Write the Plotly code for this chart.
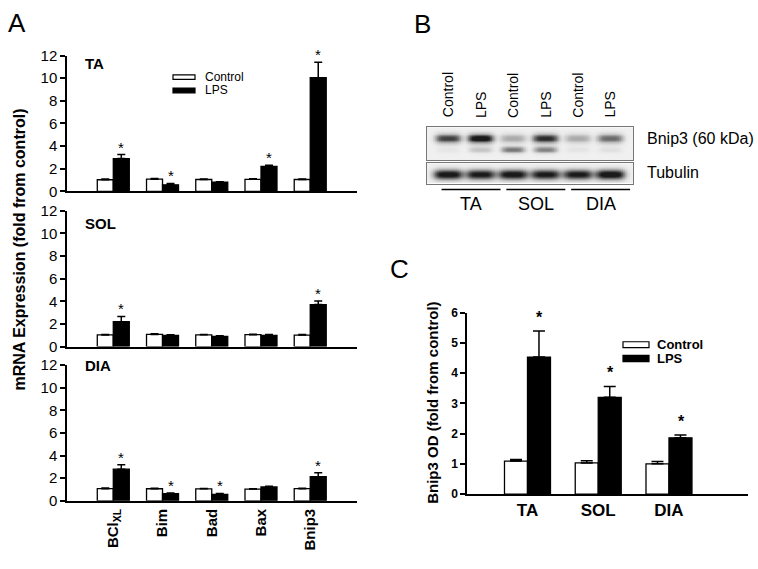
import numpy as np
import plotly.graph_objects as go

W, H = 758, 569
FONT = "Liberation Sans, Arial, sans-serif"

# ---- panel A data (mRNA, fold from control) ----
genes = ["BCl<sub>XL</sub>", "Bim", "Bad", "Bax", "Bnip3"]
ta_ctrl = [1.03, 1.08, 1.05, 1.07, 1.05]
ta_ctrl_err = [0.06, 0.05, 0.04, 0.05, 0.05]
ta_lps = [2.9, 0.58, 0.82, 2.2, 10.05]
ta_lps_err = [0.35, 0.12, 0.04, 0.1, 1.35]
ta_sig = [1, 1, 0, 1, 1]

sol_ctrl = [1.03, 1.08, 1.04, 1.05, 1.02]
sol_ctrl_err = [0.05, 0.05, 0.04, 0.04, 0.04]
sol_lps = [2.2, 0.98, 0.9, 1.0, 3.71]
sol_lps_err = [0.46, 0.06, 0.06, 0.06, 0.32]
sol_sig = [1, 0, 0, 0, 1]

dia_ctrl = [1.08, 1.07, 1.06, 1.04, 1.08]
dia_ctrl_err = [0.05, 0.05, 0.04, 0.04, 0.04]
dia_lps = [2.8, 0.64, 0.57, 1.23, 2.14]
dia_lps_err = [0.4, 0.06, 0.08, 0.05, 0.35]
dia_sig = [1, 1, 1, 0, 1]

# ---- panel C data (Bnip3 OD) ----
muscles = ["TA", "SOL", "DIA"]
od_ctrl = [1.09, 1.03, 1.0]
od_ctrl_err = [0.05, 0.07, 0.08]
od_lps = [4.53, 3.2, 1.86]
od_lps_err = [0.86, 0.36, 0.09]
od_sig = [1, 1, 1]

# ---- panel B blot (relative band darkness per lane) ----
lanes = ["Control", "LPS", "Control", "LPS", "Control", "LPS"]
bnip3_band = [0.85, 1.15, 0.35, 0.95, 0.35, 0.65]
lower_band = [0.05, 0.22, 0.6, 0.55, 0.06, 0.08]
tubulin_band = [1.1, 1.05, 1.1, 1.05, 1.05, 1.15]


def px_x(p):
    return p / W


def px_y(p):
    return 1 - p / H


fig = go.Figure()

A_GAP = 0.35
C_GAP = 0.30
panels = [("", "", ta_ctrl, ta_ctrl_err, ta_lps, ta_lps_err, ta_sig),
          ("2", "2", sol_ctrl, sol_ctrl_err, sol_lps, sol_lps_err, sol_sig),
          ("3", "3", dia_ctrl, dia_ctrl_err, dia_lps, dia_lps_err, dia_sig)]
idx = list(range(len(genes)))
annos = []

for xs, ys, c, ce, l, le, sig in panels:
    fig.add_trace(go.Bar(x=idx, y=c, xaxis="x" + xs, yaxis="y" + ys, name="Control",
                         marker=dict(color="white", line=dict(color="black", width=1.3)),
                         error_y=dict(type="data", array=ce, arrayminus=[0] * len(ce), symmetric=False,
                                      color="black", thickness=1.5, width=4),
                         showlegend=False))
    fig.add_trace(go.Bar(x=idx, y=l, xaxis="x" + xs, yaxis="y" + ys, name="LPS",
                         marker=dict(color="black", line=dict(color="black", width=1.3)),
                         error_y=dict(type="data", array=le, arrayminus=[0] * len(le), symmetric=False,
                                      color="black", thickness=1.5, width=4),
                         showlegend=False))
    off = (1 - A_GAP) / 4
    for i, s in enumerate(sig):
        if s:
            annos.append(dict(x=i + off, y=l[i] + le[i], xref="x" + xs, yref="y" + ys, text="*",
                              showarrow=False, yanchor="bottom", yshift=-3,
                              font=dict(size=15, color="black", family=FONT)))

cidx = list(range(len(muscles)))
fig.add_trace(go.Bar(x=cidx, y=od_ctrl, xaxis="x6", yaxis="y6", name="Control",
                     marker=dict(color="white", line=dict(color="black", width=1.3)),
                     error_y=dict(type="data", array=od_ctrl_err, arrayminus=[0] * 3, symmetric=False,
                                  color="black", thickness=1.5, width=6),
                     showlegend=False))
fig.add_trace(go.Bar(x=cidx, y=od_lps, xaxis="x6", yaxis="y6", name="LPS",
                     marker=dict(color="black", line=dict(color="black", width=1.3)),
                     error_y=dict(type="data", array=od_lps_err, arrayminus=[0] * 3, symmetric=False,
                                  color="black", thickness=1.5, width=6),
                     showlegend=False))
coff = (1 - C_GAP) / 4
for i, s in enumerate(od_sig):
    if s:
        annos.append(dict(x=i + coff, y=od_lps[i] + od_lps_err[i], xref="x6", yref="y6", text="<b>*</b>",
                          showarrow=False, yanchor="bottom", yshift=3,
                          font=dict(size=16, color="black", family=FONT)))


# blot images as heatmaps
def blot(intensities, yc, sy, hw=0.4, nx=300, ny=40, extra=None):
    gx = np.linspace(-0.65, 5.71, nx)
    gy = np.linspace(0, 1, ny)
    X, Y = np.meshgrid(gx, gy)
    Z = np.zeros_like(X)
    for i, v in enumerate(intensities):
        Z += v * np.exp(-((X - i) / hw) ** 4) * np.exp(-((Y - yc) / sy) ** 2)
    if extra is not None:
        vals, yc2, sy2 = extra
        for i, v in enumerate(vals):
            Z += v * np.exp(-((X - i) / 0.36) ** 4) * np.exp(-((Y - yc2) / sy2) ** 2)
    return gx, gy, np.clip(Z, 0, 1)


gray = [[0, "#f0f0f0"], [0.4, "#a0a0a0"], [1, "#1a1a1a"]]
bx, by, bz = blot(bnip3_band, 0.67, 0.13, extra=(lower_band, 0.33, 0.09))
fig.add_trace(go.Heatmap(x=bx, y=by, z=bz, xaxis="x4", yaxis="y4", colorscale=gray,
                         zmin=0, zmax=1, showscale=False, hoverinfo="skip", zsmooth="best"))
tx, ty, tz = blot(tubulin_band, 0.45, 0.24, hw=0.46)
fig.add_trace(go.Heatmap(x=tx, y=ty, z=tz, xaxis="x5", yaxis="y5", colorscale=gray,
                         zmin=0, zmax=1, showscale=False, hoverinfo="skip", zsmooth="best"))

# axes
tickfontA = dict(size=15, color="black", family=FONT)
ydom = {"": (188, 48), "2": (348, 208), "3": (507, 367)}
layout = dict(width=W, height=H, margin=dict(l=0, r=0, t=0, b=0),
              paper_bgcolor="white", plot_bgcolor="white",
              font=dict(family=FONT, color="black"),
              barmode="group", bargap=A_GAP, bargroupgap=0)

for k, (b, t) in ydom.items():
    layout["xaxis" + k] = dict(domain=[px_x(67), px_x(357)], range=[-0.94, 4.95], anchor="y" + k,
                               showline=True, linecolor="black", linewidth=2, ticks="",
                               showgrid=False, zeroline=False, tickvals=idx, ticktext=genes,
                               showticklabels=(k == "3"), tickangle=-90,
                               tickfont=dict(size=15, color="black", family=FONT, weight="bold"))
    layout["yaxis" + k] = dict(domain=[px_y(b), px_y(t)], range=[0, 12], anchor="x" + k,
                               showline=True, linecolor="black", linewidth=1.5, ticks="outside",
                               ticklen=5, tickwidth=1.5, tickcolor="black", dtick=2,
                               showgrid=False, zeroline=False, tickfont=tickfontA)

layout["xaxis6"] = dict(domain=[px_x(467), px_x(748)], range=[-0.855, 3.117], anchor="y6",
                        showline=True, linecolor="black", linewidth=2, ticks="", showgrid=False,
                        zeroline=False, tickvals=cidx, ticktext=muscles,
                        tickfont=dict(size=17, color="black", family=FONT, weight="bold"))
layout["yaxis6"] = dict(domain=[px_y(500), px_y(313)], range=[0, 6], anchor="x6",
                        showline=True, linecolor="black", linewidth=1.5, ticks="outside",
                        ticklen=5, tickwidth=1.5, tickcolor="black", dtick=1,
                        showgrid=False, zeroline=False,
                        tickfont=dict(size=12, color="black", family=FONT, weight="bold"))

blot_x = dict(domain=[px_x(427), px_x(633)], range=[-0.65, 5.71], showline=True, mirror=True,
              linecolor="#777777", linewidth=1.2, ticks="", showticklabels=False,
              showgrid=False, zeroline=False)
layout["xaxis4"] = dict(blot_x, anchor="y4")
layout["xaxis5"] = dict(blot_x, anchor="y5")
layout["yaxis4"] = dict(domain=[px_y(156), px_y(122)], range=[0, 1], anchor="x4", showline=True,
                        mirror=True, linecolor="#777777", linewidth=1.2, ticks="",
                        showticklabels=False, showgrid=False, zeroline=False)
layout["yaxis5"] = dict(domain=[px_y(180), px_y(159)], range=[0, 1], anchor="x5", showline=True,
                        mirror=True, linecolor="#777777", linewidth=1.2, ticks="",
                        showticklabels=False, showgrid=False, zeroline=False)

# texts
def txt(x, y, s, size, bold=False, xanchor="center", yanchor="middle", angle=0, xref="paper"):
    annos.append(dict(x=x, y=y, xref=xref, yref="paper", text=("<b>%s</b>" % s) if bold else s,
                      showarrow=False, xanchor=xanchor, yanchor=yanchor, textangle=angle,
                      font=dict(size=size, color="black", family=FONT)))


txt(px_x(17), px_y(14), "A", 26)
txt(px_x(422), px_y(15), "B", 26)
txt(px_x(399), px_y(268), "C", 26)

txt(px_x(20), px_y(248), "mRNA Expression (fold from control)", 16, bold=True, angle=-90)
txt(px_x(433), px_y(406), "Bnip3 OD (fold from control)", 15, bold=True, angle=-90)

for lab, yc in zip(muscles, [56, 221, 367]):
    txt(px_x(83), px_y(yc), lab, 15, bold=True, xanchor="left")

# lane labels and blot annotations
for i, lab in enumerate(lanes):
    txt(i, px_y(114), lab, 14, yanchor="bottom", angle=-90, xref="x4")
txt(px_x(645), px_y(133), "Bnip3 (60 kDa)", 16, xanchor="left")
txt(px_x(645), px_y(169), "Tubulin", 16, xanchor="left")

shapes = []
for g, lab in enumerate(muscles):
    x0, x1 = 2 * g - 0.2, 2 * g + 1.62
    shapes.append(dict(type="line", xref="x4", yref="paper", x0=x0, x1=x1,
                       y0=px_y(186), y1=px_y(186), line=dict(color="black", width=1.6)))
    txt((x0 + x1) / 2, px_y(201), lab, 18, xref="x4")

# legends
def legend_item(x0, x1, y0, y1, fill, label, tx, size, bold):
    shapes.append(dict(type="rect", xref="paper", yref="paper", x0=px_x(x0), x1=px_x(x1),
                       y0=px_y(y1), y1=px_y(y0), fillcolor=fill,
                       line=dict(color="black", width=1.2)))
    txt(px_x(tx), px_y((y0 + y1) / 2), label, size, bold=bold, xanchor="left")


legend_item(173, 195, 68, 72.5, "white", "Control", 203, 12, False)
legend_item(173, 195, 81.5, 86.5, "black", "LPS", 203, 12, False)
legend_item(623, 649, 343, 349, "white", "Control", 655, 13, True)
legend_item(623, 649, 357, 363.5, "black", "LPS", 655, 13, True)

layout["annotations"] = annos
layout["shapes"] = shapes
fig.update_layout(**layout)
fig.write_html("out.html", config={"displayModeBar": False},
               post_script="document.body.style.margin='0px';")
